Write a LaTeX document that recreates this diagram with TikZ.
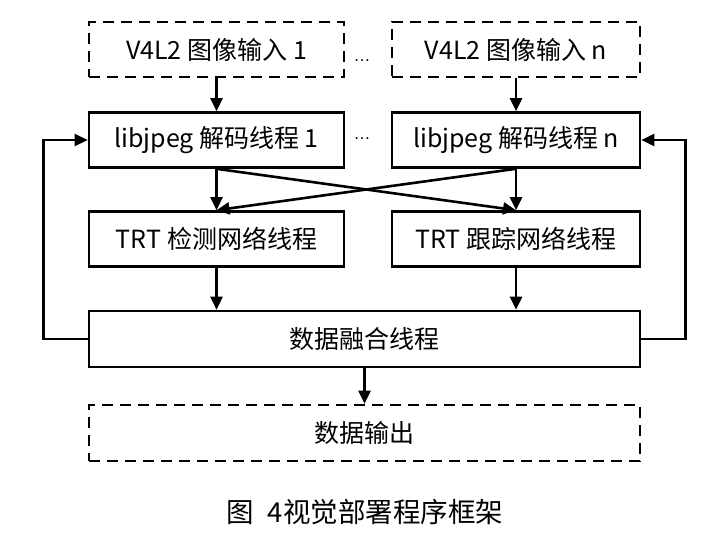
\documentclass[tikz,border=0pt]{standalone}
\usepackage{fontspec}
\setmainfont{Noto Sans CJK SC}
\newfontfamily\dotsfont{Liberation Sans}
\usetikzlibrary{arrows.meta}
\begin{document}
\begin{tikzpicture}[x=1pt,y=-1pt,
  boxbase/.style={draw=black,line width=2.6pt,minimum height=55pt,inner sep=0pt,
     font=\fontsize{25}{28}\selectfont,anchor=center},
  solidbox/.style={boxbase},
  dashbox/.style={boxbase,dash pattern=on 11pt off 7pt},
  arr/.style={line width=2.6pt,-{Triangle[length=13pt,width=12pt]}},
  dotnode/.style={font=\dotsfont\fontsize{17}{18}\selectfont,inner sep=0pt,anchor=base}
]
\useasboundingbox (0,0) rectangle (725,538);
% top inputs
\node[dashbox,minimum width=255pt] (v1) at (216.5,49.5) {V4L2 图像输入 1};
\node[dashbox,minimum width=248pt] (vn) at (516,49.5) {V4L2 图像输入 n};
\node[dotnode] (d1) at (362,61) {…};
% decoders
\node[solidbox,minimum width=255pt] (l1) at (216.5,140) {libjpeg 解码线程 1};
\node[solidbox,minimum width=248pt] (ln) at (516,140) {libjpeg 解码线程 n};
\node[dotnode] (d2) at (362,139) {…};
% TRT
\node[solidbox,minimum width=255pt] (t1) at (216.5,239) {TRT 检测网络线程};
\node[solidbox,minimum width=248pt] (tn) at (516,239) {TRT 跟踪网络线程};
% fusion
\node[solidbox,minimum width=551pt,minimum height=56pt] (fus) at (364.5,339) {数据融合线程};
% output
\node[dashbox,minimum width=551pt,minimum height=56pt] (out) at (364.5,433) {数据输出};
% caption
\node[inner sep=0pt,font=\fontsize{27.5}{30}\selectfont] (cap) at (365,512) {图\hspace{0.5em}4视觉部署程序框架};
% arrows
\draw[arr] (v1.south) -- (l1.north);
\draw[arr] (vn.south) -- (ln.north);
\draw[arr] (l1.south) -- (t1.north);
\draw[arr] (ln.south) -- (tn.north);
\draw[arr] (l1.south) -- (tn.north);
\draw[arr] (ln.south) -- (t1.north);
\draw[arr] (t1.south) -- (t1.south |- fus.north);
\draw[arr] (tn.south) -- (tn.south |- fus.north);
\draw[arr] (fus.south) -- (out.north);
\draw[arr] (fus.west) -- ++(-44,0) |- (l1.west);
\draw[arr] (fus.east) -- ++(44,0) |- (ln.east);
\end{tikzpicture}
\end{document}
